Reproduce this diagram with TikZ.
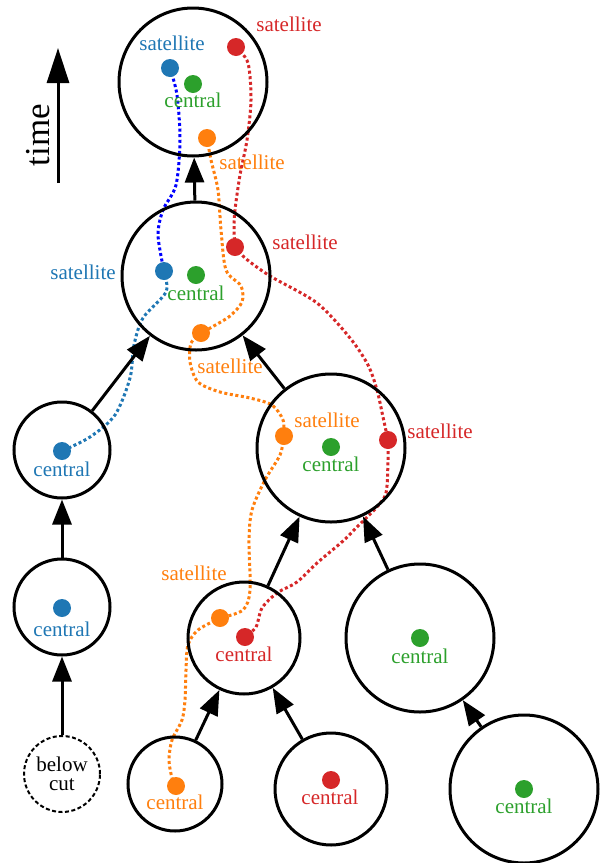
\documentclass[tikz,border=0pt]{standalone}
\usepackage{fontspec}
\setmainfont{Liberation Serif}
\usetikzlibrary{arrows.meta,backgrounds}
\definecolor{tblue}{HTML}{1F77B4}
\definecolor{torange}{HTML}{FF7F0E}
\definecolor{tgreen}{HTML}{2CA02C}
\definecolor{tred}{HTML}{D62728}

\begin{document}
\begin{tikzpicture}[x=1pt,y=-1pt,
                    line width=3pt,
                    font=\fontsize{21}{19}\selectfont]
    \tikzstyle{halo}=[circle,draw,inner sep=0pt]
    \tikzstyle{bighalo}=[halo,minimum size=148pt]
    \tikzstyle{midhalo}=[halo,minimum size=112pt]
    \tikzstyle{smallhalo}=[halo,minimum size=96pt]
    \tikzstyle{cuthalo}=[halo,minimum size=76pt,line width=2pt,dash pattern=on 4pt off 2.5pt]
    \tikzstyle{sub}=[circle,minimum size=18pt,inner sep=0pt]
    \tikzstyle{tag}=[anchor=base,inner sep=0pt]
    \tikzstyle{link}=[-{Triangle[length=25pt,width=19pt]}]
    \tikzstyle{track}=[line width=3pt,dash pattern=on 3pt off 2.6pt]

    \useasboundingbox (0,0) rectangle (603,863);

    % halos
    \node[bighalo]   (h1)  at (193,82)  {};
    \node[bighalo]   (h2)  at (196,276) {};
    \node[smallhalo] (h3)  at (62,450)  {};
    \node[smallhalo] (h4)  at (62,607)  {};
    \node[bighalo]   (h5)  at (331,448) {};
    \node[midhalo]   (h6)  at (244,638) {};
    \node[bighalo]   (h7)  at (420,638) {};
    \node[cuthalo,align=center] (h0) at (62,774) {below\\cut};
    \node[halo,minimum size=94pt] (h8) at (175,784) {};
    \node[midhalo]   (h9)  at (331,789) {};
    \node[bighalo]   (h10) at (524,789) {};

    % subhalos
    \node[sub,fill=tblue]   (b1) at (170,68)  {};
    \node[sub,fill=tgreen]  (g1) at (193,84)  {};
    \node[sub,fill=tred]    (r1) at (236,47)  {};
    \node[sub,fill=torange] (o1) at (207,138) {};
    \node[sub,fill=tblue]   (b2) at (164,271) {};
    \node[sub,fill=tgreen]  (g2) at (196,275) {};
    \node[sub,fill=tred]    (r2) at (235,247) {};
    \node[sub,fill=torange] (o2) at (201,333) {};
    \node[sub,fill=tblue]   (b3) at (62,451)  {};
    \node[sub,fill=tblue]   (b4) at (62,608)  {};
    \node[sub,fill=torange] (o3) at (284,436) {};
    \node[sub,fill=tgreen]  (g3) at (331,447) {};
    \node[sub,fill=tred]    (r3) at (388,440) {};
    \node[sub,fill=torange] (o4) at (220,618) {};
    \node[sub,fill=tred]    (r4) at (245,637) {};
    \node[sub,fill=tgreen]  (g4) at (420,638) {};
    \node[sub,fill=torange] (o5) at (176,786) {};
    \node[sub,fill=tred]    (r5) at (331,780) {};
    \node[sub,fill=tgreen]  (g5) at (524,789) {};

    % labels
    \node[tag,text=tblue]   (lb1) at (172,50)  {satellite};
    \node[tag,text=tgreen]  (lg1) at (193,107) {central};
    \node[tag,text=tred]    (lr1) at (289,31)  {satellite};
    \node[tag,text=torange] (lo1) at (252,169) {satellite};
    \node[tag,text=tblue]   (lb2) at (83,279)  {satellite};
    \node[tag,text=tgreen]  (lg2) at (196,300) {central};
    \node[tag,text=tred]    (lr2) at (305,249) {satellite};
    \node[tag,text=torange] (lo2) at (230,373) {satellite};
    \node[tag,text=tblue]   (lb3) at (62,476)  {central};
    \node[tag,text=tblue]   (lb4) at (62,636)  {central};
    \node[tag,text=torange] (lo3) at (327,427) {satellite};
    \node[tag,text=tgreen]  (lg3) at (331,471) {central};
    \node[tag,text=tred]    (lr3) at (440,438) {satellite};
    \node[tag,text=torange] (lo4) at (194,580) {satellite};
    \node[tag,text=tred]    (lr4) at (244,661) {central};
    \node[tag,text=tgreen]  (lg4) at (420,663) {central};
    \node[tag,text=torange] (lo5) at (175,809) {central};
    \node[tag,text=tred]    (lr5) at (330,804) {central};
    \node[tag,text=tgreen]  (lg5) at (524,813) {central};

    % time axis
    \coordinate (t0) at (58,183);
    \coordinate (t1) at (58,48);
    \draw[-{Triangle[length=35pt,width=22pt]}] (t0) -- (t1);
    \node[rotate=90,font=\fontsize{35}{35}\selectfont] (time) at (38,135) {time};

    % merger tree
    \draw[link] (h2) -- (h1);
    \draw[link] (h3) -- (h2);
    \draw[link] (h5) -- (h2);
    \draw[link] (h4) -- (h3);
    \draw[link] (h0) -- (h4);
    \draw[link] (h6) -- (h5);
    \draw[link] (h7) -- (h5);
    \draw[link] (h8) -- (h6);
    \draw[link] (h9) -- (h6);
    \draw[link] (h10) -- (h7);

    % tracks
    \begin{scope}[on background layer]
        \draw[track,blue] plot[smooth] coordinates {(b1.center) (177,95) (180,140) (176,185) (163,210) (158,235) (b2.center)};
        \draw[track,tblue] plot[smooth] coordinates {(b2.center) (166,292) (143,318) (134,345) (130,378) (115,415) (90,437) (b3.center)};
        \draw[track,torange] plot[smooth] coordinates {(o1.center) (211,160) (218,190) (221,230) (226,270) (241,286) (242,302) (230,316) (212,327) (o2.center)};
        \draw[track,torange] plot[smooth] coordinates {(o2.center) (191,343) (190,362) (198,382) (220,392) (250,398) (272,405) (283,420) (o3.center)};
        \draw[track,torange] plot[smooth] coordinates {(o3.center) (280,455) (265,480) (252,510) (249,540) (250,590) (243,610) (o4.center)};
        \draw[track,torange] plot[smooth] coordinates {(o4.center) (198,630) (188,645) (186,670) (185,700) (182,720) (172,740) (169,760) (172,778) (o5.center)};
        \draw[track,tred] plot[smooth] coordinates {(r1.center) (248,63) (251,100) (247,140) (240,175) (235,210) (234,230) (r2.center)};
        \draw[track,tred] plot[smooth] coordinates {(r2.center) (245,258) (270,276) (317,303) (350,338) (368,365) (377,390) (383,417) (r3.center)};
        \draw[track,tred] plot[smooth] coordinates {(r3.center) (388,460) (386,493) (376,508) (357,527) (343,541) (317,563) (297,582) (277,593) (262,608) (256,627) (r4.center)};
    \end{scope}
\end{tikzpicture}
\end{document}
